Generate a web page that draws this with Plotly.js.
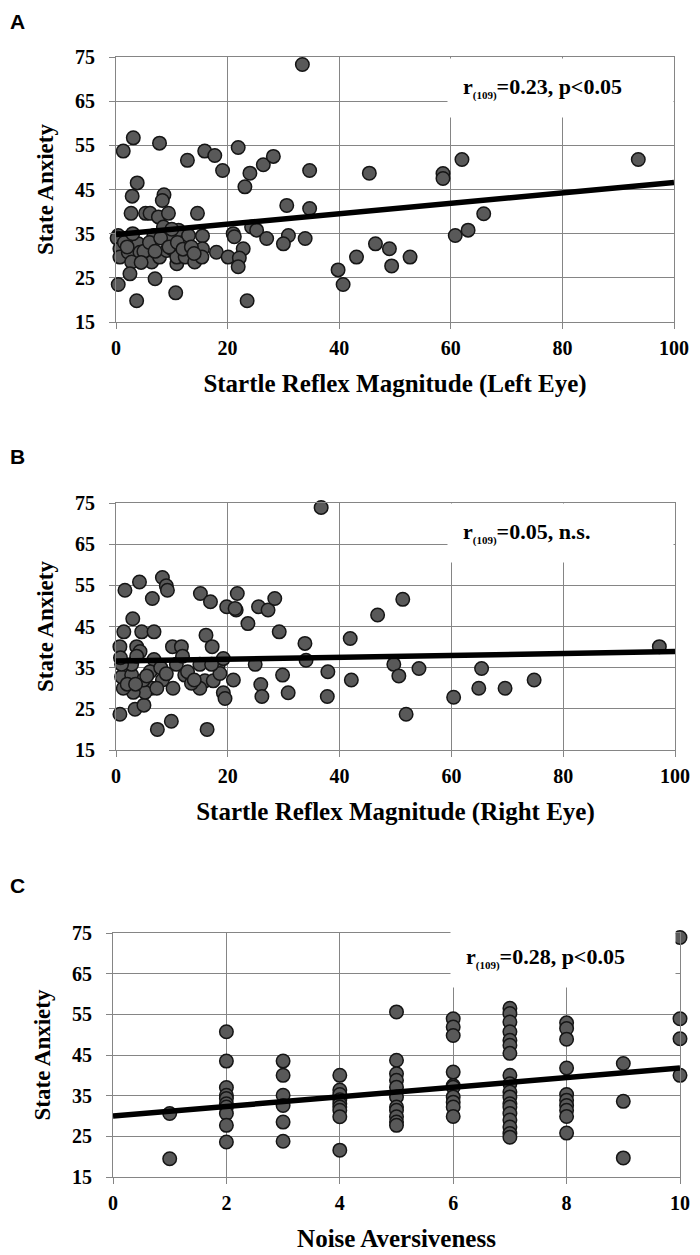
<!DOCTYPE html>
<html>
<head>
<meta charset="utf-8">
<script src="https://cdn.plot.ly/plotly-3.0.1.min.js"></script>
<style>
  body { margin: 0; background: #fff; }
  #chart { width: 700px; height: 1255px; }
</style>
</head>
<body>
<div id="chart"></div>
<script>
// Panel A: startle reflex (left eye) vs state anxiety
var aX = [33.4, 3.1, 1.3, 7.8, 12.8, 15.9, 17.7, 19.1, 21.9, 26.4, 28.2, 24.0, 23.1, 34.7,
    3.8, 2.9, 8.6, 8.3, 2.7, 5.3, 6.1, 7.6, 9.4, 14.6, 30.6, 34.7,
    0.4, 0.2, 6.8, 8.5, 9.4, 11.2, 13.0, 15.5, 15.5, 21.0, 21.2, 24.3, 25.2, 27.0, 30.9, 30.0, 33.9, 22.8,
    0.7, 0.7, 2.2, 4.0, 4.3, 2.8, 5.5, 6.4, 7.8, 9.1, 10.0, 10.9, 10.9, 12.4, 14.1, 15.4, 18.0, 20.1, 22.1, 21.9,
    2.5, 7.0, 0.4, 3.7, 10.7, 23.5, 39.8, 40.7,
    45.4, 58.6, 58.6, 62.0, 93.6, 65.9, 60.8, 63.1, 46.5, 49.0, 49.4, 43.1, 52.7,
    1.5, 3.0, 5.0, 6.0, 8.0, 9.5, 11.0, 12.0, 13.5, 4.5, 7.0, 2.0, 10.0, 14.0];
var aY = [73.3, 56.7, 53.7, 55.5, 51.6, 53.7, 52.7, 49.3, 54.5, 50.6, 52.5, 48.7, 45.6, 49.3,
    46.5, 43.5, 43.8, 42.5, 39.6, 39.6, 39.6, 38.8, 39.6, 39.6, 41.4, 40.7,
    34.6, 34.0, 34.6, 36.5, 34.6, 35.8, 34.6, 34.5, 31.6, 35.0, 34.3, 36.5, 35.8, 33.9, 34.6, 32.7, 33.9, 31.6,
    31.6, 29.7, 30.8, 32.7, 30.8, 28.6, 30.5, 28.6, 29.7, 31.2, 31.6, 28.2, 29.7, 29.7, 28.6, 29.7, 30.8, 29.7, 29.5, 27.5,
    25.9, 24.8, 23.5, 19.8, 21.6, 19.8, 26.8, 23.5,
    48.7, 48.6, 47.5, 51.8, 51.8, 39.5, 34.6, 35.8, 32.7, 31.6, 27.7, 29.7, 29.7,
    33.0, 35.0, 31.0, 33.0, 34.0, 32.0, 33.0, 31.5, 32.0, 28.5, 31.0, 32.0, 36.0, 30.5];
var fitAX = [0, 100];
var fitAY = [34.8, 46.6];

// Panel B: startle reflex (right eye) vs state anxiety
var bX = [36.7, 1.6, 4.2, 8.3, 9.0, 9.2, 6.5, 15.1, 16.9, 21.7, 19.8, 21.5, 21.3, 25.5, 27.2, 28.4, 23.6,
    3.0, 1.4, 4.6, 6.8, 16.1, 17.2, 29.2, 33.8, 0.7, 3.7, 4.3, 10.1, 11.7, 34.0, 37.9, 37.8,
    24.9, 25.9, 26.1, 29.8, 30.8, 21.0, 19.2, 19.5, 15.0, 15.9, 15.0, 17.4, 18.3, 18.6, 19.2,
    12.3, 10.8, 11.9, 10.2, 8.3, 9.9, 7.4, 16.3, 0.7, 3.4, 5.0, 6.4, 5.2, 3.1, 1.3, 1.0, 2.8, 4.9,
    2.8, 3.7, 6.8, 6.1, 1.0, 0.8, 7.3, 13.5, 17.1,
    51.3, 46.8, 41.9, 42.1, 49.7, 50.6, 54.2, 51.9, 60.4, 65.4, 64.9, 69.6, 74.8, 97.2,
    2.0, 5.5, 8.0, 12.8, 14.0, 9.0, 3.5];
var bY = [73.9, 53.8, 55.8, 56.9, 54.9, 53.8, 51.8, 53.0, 51.0, 53.0, 49.8, 49.0, 49.4, 49.8, 49.0, 51.8, 45.7,
    46.9, 43.7, 43.7, 43.7, 42.9, 40.1, 43.7, 40.9, 40.1, 40.1, 38.9, 40.1, 40.1, 36.8, 34.0, 28.0,
    35.8, 30.9, 28.0, 33.2, 28.9, 32.0, 28.9, 27.5, 35.8, 31.8, 30.0, 31.8, 35.8, 33.6, 37.2,
    33.2, 35.8, 37.8, 30.0, 32.0, 22.0, 20.0, 20.0, 23.7, 24.9, 25.9, 30.0, 29.0, 29.0, 30.0, 32.8, 33.2, 32.0,
    35.8, 37.8, 37.0, 34.0, 35.8, 37.4, 30.0, 31.2, 35.8,
    51.6, 47.8, 42.1, 32.0, 35.8, 33.0, 34.8, 23.7, 27.8, 34.8, 30.0, 30.0, 32.0, 40.1,
    31.0, 33.0, 35.0, 34.0, 32.0, 33.5, 31.0];
var fitBX = [0, 100];
var fitBY = [36.6, 38.9];

// Panel C: noise aversiveness vs state anxiety
var cX = [1, 1,
    2, 2, 2, 2, 2, 2, 2, 2, 2, 2,
    3, 3, 3, 3, 3, 3,
    4, 4, 4, 4, 4, 4, 4, 4, 4,
    5, 5, 5, 5, 5, 5, 5, 5, 5, 5, 5,
    6, 6, 6, 6, 6, 6, 6, 6, 6, 6,
    7, 7, 7, 7, 7, 7, 7, 7, 7, 7, 7, 7, 7, 7, 7, 7, 7, 7,
    8, 8, 8, 8, 8, 8, 8, 8, 8, 8,
    9, 9, 9,
    10, 10, 10, 10];
var cY = [30.6, 19.5,
    50.7, 43.5, 37.0, 35.1, 34.3, 33.0, 32.2, 30.6, 27.7, 23.6,
    43.5, 40.0, 35.1, 32.6, 28.5, 23.8,
    40.0, 36.4, 35.3, 34.0, 33.0, 32.2, 31.4, 29.8, 21.6,
    55.6, 43.7, 40.4, 38.8, 37.1, 34.7, 32.2, 31.4, 29.8, 28.5, 27.7,
    53.9, 51.9, 49.8, 40.8, 37.5, 37.1, 34.7, 33.4, 32.2, 29.9,
    56.5, 55.2, 53.1, 50.7, 48.6, 47.4, 45.4, 40.0, 37.9, 35.9, 34.7, 33.0, 32.2, 30.6, 29.0, 27.3, 25.7, 24.8,
    52.9, 51.5, 48.9, 41.8, 35.3, 33.9, 32.6, 31.4, 29.9, 25.8,
    42.9, 33.6, 19.7,
    73.9, 53.9, 49.0, 40.0];
var fitCX = [0, 10];
var fitCY = [30.0, 41.8];

var yTicks = [15, 25, 35, 45, 55, 65, 75];

var serif = 'Liberation Serif, Times New Roman, serif';
var gridGrey = '#858585';

function dots(x, y, n) {
    return {
        x: x, y: y, xaxis: 'x' + n, yaxis: 'y' + n,
        type: 'scatter', mode: 'markers', cliponaxis: false,
        marker: { size: 13.5, color: '#595959', line: { color: '#151515', width: 1.5 } },
        hoverinfo: 'x+y'
    };
}

function fit(x, y, n) {
    return {
        x: x, y: y, xaxis: 'x' + n, yaxis: 'y' + n,
        type: 'scatter', mode: 'lines', cliponaxis: false,
        line: { color: '#000', width: 5.5 },
        hoverinfo: 'skip'
    };
}

function xAxis(domain, range, dtick, title, n) {
    return {
        domain: domain, range: range, dtick: dtick, tick0: 0,
        anchor: 'y' + n,
        showgrid: true, gridcolor: gridGrey, gridwidth: 1,
        showline: true, mirror: true, linecolor: gridGrey, linewidth: 1,
        zeroline: false,
        ticks: 'outside', ticklen: 6, tickcolor: gridGrey,
        ticklabelstandoff: 2,
        tickfont: { family: serif, size: 20, color: '#000', weight: 'bold' },
        title: { text: '<b>' + title + '</b>', standoff: 16,
                 font: { family: serif, size: 25, color: '#000' } }
    };
}

function yAxis(domain, n) {
    return {
        domain: domain, range: [15, 75], tickvals: yTicks,
        anchor: 'x' + n,
        showgrid: true, gridcolor: gridGrey, gridwidth: 1,
        showline: true, mirror: true, linecolor: gridGrey, linewidth: 1,
        zeroline: false,
        ticks: 'outside', ticklen: 6, tickcolor: gridGrey,
        ticklabelstandoff: 10,
        tickfont: { family: serif, size: 20, color: '#000', weight: 'bold' },
        title: { text: '<b>State Anxiety</b>', standoff: 14,
                 font: { family: serif, size: 23, color: '#000' } }
    };
}

function stat(text, x, y, n, w) {
    return {
        text: '<b>r<sub><span style="font-size:11px">(109)</span></sub>=' + text + '</b>',
        xref: 'x' + n, yref: 'y' + n, x: x, y: y,
        xanchor: 'left', yanchor: 'middle', showarrow: false,
        align: 'left', width: w, borderpad: 15, bgcolor: '#fff',
        font: { family: serif, size: 22, color: '#000' }
    };
}

function panelLabel(text, y) {
    return {
        text: '<b>' + text + '</b>', xref: 'paper', yref: 'paper',
        x: 17 / 700, y: 1 - y / 1255, xanchor: 'center', yanchor: 'middle',
        showarrow: false,
        font: { family: 'Liberation Sans, Arial, sans-serif', size: 21, color: '#000' }
    };
}

var traces = [
    dots(aX, aY, ''), fit(fitAX, fitAY, ''),
    dots(bX, bY, 2), fit(fitBX, fitBY, 2),
    dots(cX, cY, 3), fit(fitCX, fitCY, 3)
];

var layout = {
    width: 700, height: 1255,
    margin: { l: 0, r: 0, t: 0, b: 0 },
    paper_bgcolor: '#fff', plot_bgcolor: '#fff',
    showlegend: false,
    xaxis: xAxis([116 / 700, 674 / 700], [0, 100], 20, 'Startle Reflex Magnitude (Left Eye)', ''),
    yaxis: yAxis([1 - 322 / 1255, 1 - 57 / 1255], ''),
    xaxis2: xAxis([116 / 700, 675 / 700], [0, 100], 20, 'Startle Reflex Magnitude (Right Eye)', 2),
    yaxis2: yAxis([1 - 750 / 1255, 1 - 503 / 1255], 2),
    xaxis3: xAxis([113 / 700, 680 / 700], [0, 10], 2, 'Noise Aversiveness', 3),
    yaxis3: yAxis([1 - 1177 / 1255, 1 - 933 / 1255], 3),
    annotations: [
        stat('0.23, p&lt;0.05', 59.3, 68.0, '', 195),
        stat('0.05, n.s.', 59.3, 67.7, 2, 195),
        stat('0.28, p&lt;0.05', 5.95, 68.9, 3, 194),
        panelLabel('A', 21),
        panelLabel('B', 457),
        panelLabel('C', 886)
    ]
};

Plotly.newPlot('chart', traces, layout, { displayModeBar: false, staticPlot: true });
</script>
</body>
</html>
